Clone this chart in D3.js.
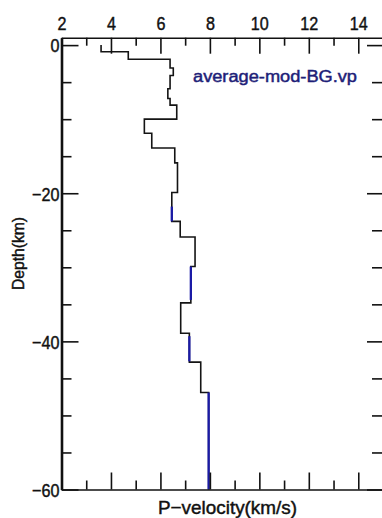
<!DOCTYPE html>
<html>
<head>
<meta charset="utf-8">
<script src="https://cdn.jsdelivr.net/npm/d3@7"></script>
<style>
  html, body { margin: 0; padding: 0; background: #fff; }
  svg { display: block; }
  text { font-family: "Liberation Sans", Arial, sans-serif; fill: #111; stroke: #111; stroke-width: 0.45px; }
</style>
</head>
<body>
<svg id="chart" width="382" height="518"></svg>
<script>
// Layered P-wave velocity model (black profile): layer top/bottom depth (km) and Vp (km/s)
const layerTop    = [0, -0.9, -1.9, -3.1, -4.1, -5.9, -7.2, -8.1, -10.0, -11.9, -13.9, -15.9, -19.9, -23.8, -25.9, -29.9, -34.8, -38.9, -42.8, -46.9];
const layerBottom = [-0.9, -1.9, -3.1, -4.1, -5.9, -7.2, -8.1, -10.0, -11.9, -13.9, -15.9, -19.9, -23.8, -25.9, -29.9, -34.8, -38.9, -42.8, -46.9, -60];
const layerVp     = [3.6, 4.7, 6.39, 6.52, 6.39, 6.3, 6.39, 6.66, 5.35, 5.65, 6.58, 6.69, 6.46, 6.8, 7.4, 7.23, 6.82, 7.17, 7.63, 7.95];

// average-mod-BG.vp segments (blue)
const blueTop    = [-21.8, -29.9, -39.3, -46.9];
const blueBottom = [-23.8, -34.4, -42.7, -60];
const blueVp     = [6.46, 7.23, 7.17, 7.95];

// Axis ticks
const vpMajor    = [2, 4, 6, 8, 10, 12, 14];
const vpMinor    = [3, 5, 7, 9, 11, 13, 15];
const depthMajor = [0, -20, -40, -60];
const depthMinor = [-5, -10, -15, -25, -30, -35, -45, -50, -55];

const legendLabel = "average-mod-BG.vp";
const xTitle = "P\u2212velocity(km/s)";
const yTitle = "Depth(km)";

const plotL = 61.5, plotR = 383, plotT = 37.7, plotB = 489.5;
const squeeze = 0.85;

const svg = d3.select("#chart");

const x = d3.scaleLinear().domain([2, 15]).range([plotL, plotR]);
const y = d3.scaleLinear().domain([1, -60]).range([plotT, plotB]);

// Profiles
const pts = [];
layerVp.forEach((v, i) => { pts.push([v, layerTop[i]]); pts.push([v, layerBottom[i]]); });
const line = d3.line().x(d => x(d[0])).y(d => y(d[1]));

svg.append("path")
  .attr("d", line(pts))
  .attr("fill", "none")
  .attr("stroke", "#141414")
  .attr("stroke-width", 1.6);

svg.selectAll("line.blue")
  .data(blueVp)
  .join("line")
  .attr("class", "blue")
  .attr("x1", d => x(d)).attr("x2", d => x(d))
  .attr("y1", (d, i) => y(blueTop[i]))
  .attr("y2", (d, i) => y(blueBottom[i]))
  .attr("stroke", "#1a1aa6")
  .attr("stroke-width", 2.3);

// Axes
function styleAxis(g, width) {
  g.select(".domain").attr("stroke", "#111").attr("stroke-width", width);
  g.selectAll(".tick line").attr("stroke", "#111").attr("stroke-width", 1.6);
}

// top
const gTop = svg.append("g").attr("transform", `translate(0,${plotT})`)
  .call(d3.axisTop(x).tickValues(vpMajor).tickSizeInner(-16).tickSizeOuter(0).tickPadding(7.7))
  .call(g => styleAxis(g, 1.6));
gTop.selectAll(".tick text")
  .attr("font-size", 19)
  .attr("transform", `scale(${squeeze},1)`);
svg.append("g").attr("transform", `translate(0,${plotT})`)
  .call(d3.axisTop(x).tickValues(vpMinor).tickSizeInner(-8).tickFormat(""))
  .call(g => { g.select(".domain").remove(); styleAxis(g, 0); });

// bottom
svg.append("g").attr("transform", `translate(0,${plotB})`)
  .call(d3.axisBottom(x).tickValues(vpMajor).tickSizeInner(-17).tickSizeOuter(0).tickFormat(""))
  .call(g => styleAxis(g, 1.6));
svg.append("g").attr("transform", `translate(0,${plotB})`)
  .call(d3.axisBottom(x).tickValues(vpMinor).tickSizeInner(-9).tickFormat(""))
  .call(g => { g.select(".domain").remove(); styleAxis(g, 0); });

// left
const gLeft = svg.append("g").attr("transform", `translate(${plotL},0)`)
  .call(d3.axisLeft(y).tickValues(depthMajor).tickSizeInner(-17).tickSizeOuter(0).tickPadding(2))
  .call(g => styleAxis(g, 2.6));
gLeft.selectAll(".tick text")
  .attr("font-size", 19)
  .attr("x", -2 / squeeze)
  .attr("dy", "0.36em")
  .attr("transform", `scale(${squeeze},1)`);
svg.append("g").attr("transform", `translate(${plotL},0)`)
  .call(d3.axisLeft(y).tickValues(depthMinor).tickSizeInner(-10).tickFormat(""))
  .call(g => { g.select(".domain").remove(); styleAxis(g, 0); });

// right
svg.append("g").attr("transform", `translate(${plotR},0)`)
  .call(d3.axisRight(y).tickValues(depthMajor).tickSizeInner(-16).tickSizeOuter(0).tickFormat(""))
  .call(g => styleAxis(g, 1.6));
svg.append("g").attr("transform", `translate(${plotR},0)`)
  .call(d3.axisRight(y).tickValues(depthMinor).tickSizeInner(-11).tickFormat(""))
  .call(g => { g.select(".domain").remove(); styleAxis(g, 0); });

// Legend label
svg.append("text")
  .attr("x", 193).attr("y", 82)
  .attr("font-size", 16)
  .attr("textLength", 164)
  .attr("lengthAdjust", "spacingAndGlyphs")
  .style("fill", "#1e1e78")
  .style("stroke", "#1e1e78")
  .text(legendLabel);

// Axis titles
svg.append("text")
  .attr("x", 158).attr("y", 514)
  .attr("font-size", 19)
  .attr("textLength", 139)
  .attr("lengthAdjust", "spacingAndGlyphs")
  .text(xTitle);

svg.append("text")
  .attr("transform", "translate(24,253.5) rotate(-90)")
  .attr("text-anchor", "middle")
  .attr("font-size", 17)
  .attr("textLength", 73)
  .attr("lengthAdjust", "spacingAndGlyphs")
  .text(yTitle);
</script>
</body>
</html>
